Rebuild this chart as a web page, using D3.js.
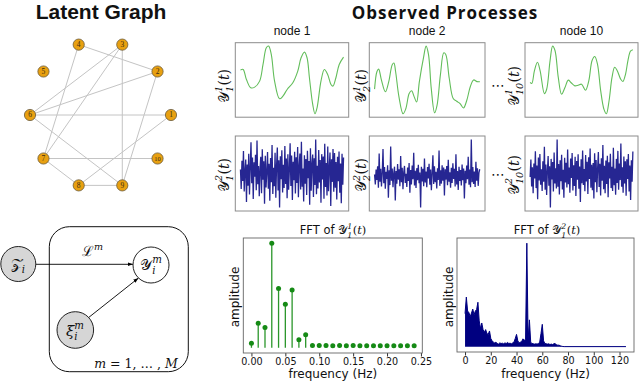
<!DOCTYPE html>
<html>
<head>
<meta charset="utf-8">
<script src="https://cdn.jsdelivr.net/npm/d3@7"></script>
<style>
  body { margin: 0; background: #fff; }
  text { fill: #111; }
</style>
</head>
<body>
<svg id="fig" width="640" height="381"></svg>
<script>
(function () {
  'use strict';

  // ---- data ----
  var nodeIds = [1, 2, 3, 4, 5, 6, 7, 8, 9, 10];
  var edgePairs = [[4, 2], [4, 7], [3, 6], [3, 7], [3, 9], [2, 6], [2, 9],
                   [6, 1], [6, 9], [1, 8], [7, 10], [7, 8], [8, 9]];

  var nodeTitles = ['node 1', 'node 2', 'node 10'];
  var nodeSubs = ['1', '2', '10'];

  // smooth processes, [time, value]
  var sig1 = [[0, 0.33], [2.6, 0.35], [5.8, 0.05], [10, -0.2], [13.8, -0.18], [18.6, 0], [21.9, 0.5],
              [25.1, 1.0], [27.3, 1.05], [29.9, 0.8], [33.1, 0], [37.9, -0.53], [41.2, -0.45],
              [45.3, -0.25], [50.8, -0.05], [55.6, 0.3], [58.8, 0.7], [62.1, 0.87], [64.6, 0.7],
              [66.9, 0.1], [70.1, -0.7], [72.3, -0.98], [74.3, -0.8], [78.1, 0], [81.4, 0.35],
              [84.6, 0.2], [87.8, -0.1], [89.7, -0.15], [92.6, 0.1], [95.8, 0.5], [100, 0.72]];
  var sig2 = [[0, -0.22], [2.3, 0.3], [3.9, 0.37], [6.5, 0.05], [10.3, -0.3], [13.5, 0], [16.8, 0.5],
              [18.4, 0.55], [20, 0.3], [23.2, -0.45], [27.1, -0.95], [29.7, -0.8], [32.9, -0.35],
              [35.2, -0.27], [37.7, -0.45], [40, -0.6], [42.6, 0], [46.5, 0.7], [49, 1.05],
              [51.3, 0.8], [53.9, -0.2], [57.1, -0.92], [59.4, -0.7], [62.6, 0.2], [65.8, 0.85],
              [67.7, 0.8], [71, 0.1], [74.8, -0.5], [78.1, -0.58], [81.3, -0.65], [84.5, -0.78],
              [87.7, -0.55], [91, -0.15], [94.2, 0.05], [97.4, 0], [100, 0]];
  var sig3 = [[0, -0.05], [1.6, -0.08], [4.2, 0.3], [7.1, 0.55], [9.7, 0.3], [13.9, -0.38], [16.1, -0.25],
              [19.4, 0.6], [21.9, 1.03], [24.2, 0.9], [27.4, 0.1], [30.6, -0.4], [33.9, -0.2],
              [37.1, 0.02], [39.7, -0.05], [43.5, -0.15], [46.8, -0.13], [50, -0.1], [53.9, -0.28],
              [57.1, 0], [60.3, 0.6], [62.9, 0.72], [65.5, 0.5], [68.7, -0.3], [71.9, -0.85],
              [74.2, -0.98], [76.8, -0.6], [79.7, 0.1], [82.3, 0.4], [84.8, 0.3], [88.1, 0.05],
              [90.3, -0.02], [92.9, 0.2], [95.2, 0.6], [97.7, 0.88], [100, 0.92]];

  // noisy processes (values read as estimates)
  var noise1 = [0.12, -0.45, 0.38, -0.21, 0.66, -0.52, 0.08, 0.41, -0.83, 0.27, -0.35, 0.58, -0.61, 0.19, 0.92,
    -0.28, 0.47, -0.74, 0.33, -0.09, 0.55, -0.48, 0.97, -0.31, 0.22, -0.66, 0.14, 0.49, -0.57, 0.71, -0.18,
    0.36, -0.88, 0.52, -0.40, 0.05, 0.63, -0.44, 0.29, -0.79, 0.46, -0.25, 0.84, -0.59, 0.17, -0.37, 0.61,
    -0.70, 0.24, 0.76, -0.49, 0.39, -0.99, 0.51, -0.16, 0.68, -0.55, 0.26, -0.42, 0.81, -0.30, 0.44, -0.72,
    0.57, -0.47, 0.11, 0.89, -0.36, 0.53, -0.77, 0.35, -0.19, 0.64, -0.58, 0.48, -0.27, 0.78, -0.69, 0.21,
    0.59, -0.46, 0.93, -0.38, 0.15, -0.81, 0.54, -0.29, 0.43, -0.62, 0.67, -0.13, 0.37, -0.91, 0.74, -0.50,
    0.28, 0.56, -0.68, 0.45, -0.33, 1.0, -0.60, 0.23, -0.43, 0.69, -0.26, 0.40, -0.85, 0.57, -0.17, 0.50,
    -0.73, 0.87, -0.39, 0.31, -0.64, 0.79, -0.51, 0.18, 0.62, -0.94, 0.42, -0.24, 0.72, -0.53, 0.60, -0.41,
    0.34, -0.75, 0.49, -0.22, 0.65, -0.56, 0.30, -0.86, 0.58, -0.32, 0.47];
  var noise2 = [0.05, -0.22, 0.18, -0.10, 0.27, -0.31, 0.62, -0.15, 0.20, -0.28, 0.09, 0.74, -0.19, 0.25, -0.34,
    0.12, -0.07, 0.30, -0.58, 0.16, -0.24, 0.81, -0.12, 0.21, -0.30, 0.08, 0.26, -0.66, 0.14, -0.20, 0.33,
    -0.09, 0.19, -0.27, 0.55, -0.16, 0.23, -0.35, 0.11, 0.28, -0.18, 0.07, -0.29, 0.24, -0.13, 0.36, -0.45,
    0.17, -0.22, 0.29, -0.08, 0.64, -0.25, 0.15, -0.32, 0.22, -0.11, 0.31, -0.19, 0.10, -0.85, 0.26, -0.14,
    0.20, -0.27, 0.48, -0.17, 0.13, -0.30, 0.25, -0.06, 0.34, -0.23, 0.18, -0.38, 0.09, 0.57, -0.21, 0.27,
    -0.16, 0.12, -0.33, 0.22, -0.10, 0.70, -0.26, 0.16, -0.20, 0.30, -0.12, 0.24, -0.52, 0.19, -0.09, 0.28,
    -0.24, 0.45, -0.15, 0.11, -0.31, 0.23, -0.18, 0.35, -0.07, 0.20, -0.28, 0.60, -0.22, 0.14, -0.37, 0.26,
    -0.13, 0.17, -0.25, 0.32, -0.11, 0.21, -0.60, 0.15, -0.19, 0.29, -0.08, 0.53, -0.23, 0.18, -0.30, 1.0,
    -0.16, 0.25, -0.21, 0.13, -0.29, 0.39, -0.12, 0.22, -0.26, 0.10, 0.19];
  var noise3 = [-0.08, 0.42, -0.35, 0.20, -0.55, 0.31, -0.12, 0.66, -0.40, 0.25, -0.72, 0.48, -0.18, 0.58, -0.30,
    0.14, -0.48, 0.37, -0.22, 0.79, -0.45, 0.28, -0.60, 0.10, 0.52, -0.33, 0.23, -0.96, 0.44, -0.15, 0.35,
    -0.50, 0.62, -0.27, 0.17, -0.41, 1.0, -0.36, 0.29, -0.58, 0.40, -0.20, 0.56, -0.44, 0.13, -0.68, 0.47,
    -0.24, 0.33, -0.38, 0.71, -0.29, 0.19, -0.53, 0.45, -0.11, 0.61, -0.47, 0.26, -0.34, 0.50, -0.63, 0.38,
    -0.16, 0.57, -0.42, 0.22, -0.80, 0.43, -0.26, 0.68, -0.31, 0.15, -0.49, 0.55, -0.21, 0.36, -0.57, 0.49,
    -0.14, 0.74, -0.39, 0.27, -0.46, 0.32, -0.70, 0.60, -0.23, 0.41, -0.52, 0.18, 0.64, -0.37, 0.30, -0.61,
    0.46, -0.19, 0.84, -0.43, 0.24, -0.55, 0.39, -0.28, 0.53, -0.66, 0.34, -0.12, 0.59, -0.40, 0.21, -0.48,
    0.76, -0.32, 0.16, -0.59, 0.44, -0.25, 0.67, -0.45, 0.31, -0.17, 0.88, -0.36, 0.20, -0.53, 0.51, -0.27,
    0.37, -0.62, 0.43, -0.14, 0.58, -0.50, 0.25, -0.74, 0.40, -0.22, 0.65];

  // FFT of the smooth process (Hz, amplitude)
  var fft1Freq = [0, 0.01, 0.02, 0.03, 0.04, 0.05, 0.06, 0.07, 0.08, 0.09, 0.10, 0.11, 0.12,
                  0.13, 0.14, 0.15, 0.16, 0.17, 0.18, 0.19, 0.20, 0.21, 0.22, 0.23, 0.24];
  var fft1Amp = [4.4, 23.5, 19.4, 100, 56.8, 41.6, 55.2, 7.6, 12.4, 2.2, 2.1, 2.2, 2.0,
                 2.1, 2.0, 2.1, 2.0, 2.0, 2.0, 2.0, 2.0, 1.9, 2.0, 1.9, 1.9];
  var fft1Ticks = [0, 0.05, 0.10, 0.15, 0.20, 0.25];

  // FFT of the noisy process, one value per Hz from 0 Hz, then flat tail
  var fft2Amp = [32, 48, 34.5, 33, 29, 32.6, 36.4, 31, 34.5, 36, 43, 25, 17.6, 23, 16.6, 14, 16.6, 12.8,
                 12, 15.3, 8, 5.8, 4.5, 3.8, 4.5, 3.2, 2.6, 3.8, 3.2, 3.5, 2.9, 3.8, 3.2, 4.2, 3.2, 3.5,
                 2.9, 3.8, 4.5, 8, 12, 5.8, 3.8, 4.5, 5.1, 7.7, 6.4, 7, 100, 7, 26, 4.5, 3.2, 2.9, 2.6,
                 2.9, 2.6, 3.2, 4.5, 12.8, 21.7, 5.8, 3.2, 2.9, 2.6, 2.9, 2.2, 2.6, 2.2, 2.9, 3.2, 1.9,
                 1.6, 1.6, 1.0, 0.6, 0.3];
  var fft2Tail = [[77, 0.2], [125, 0.2]];
  var fft2Ticks = [0, 20, 40, 60, 80, 100, 120];

  // ---- helpers ----
  var svg = d3.select('#fig');
  var serif = "'DejaVu Serif', 'Liberation Serif', serif";
  var sans = "'DejaVu Sans', sans-serif";

  function pad(ext) {
    var r = ext[1] - ext[0];
    return [ext[0] - r * 0.05, ext[1] + r * 0.05];
  }

  // little math label: base, sub, sup, then (t)
  function mathLabel(parent, o) {
    var g = parent.append('g');
    var t = g.append('text').attr('font-family', serif).attr('font-size', o.size);
    if (o.prefix) t.append('tspan').attr('font-family', sans).attr('font-size', o.prefixSize || o.size).text(o.prefix);
    t.append('tspan').attr('font-style', o.baseItalic ? 'italic' : 'normal').text(o.base);
    var subW = 0, supW = 0;
    if (o.sub) {
      var s = t.append('tspan').attr('font-size', o.size * 0.68).attr('font-style', 'italic')
        .attr('dy', o.size * 0.28).text(o.sub);
      subW = s.node().getComputedTextLength();
    }
    if (o.sup) {
      var p = t.append('tspan').attr('font-size', o.size * 0.68).attr('font-style', 'italic')
        .attr('dx', -subW).attr('dy', o.sub ? -o.size * 0.72 : -o.size * 0.44).text(o.sup);
      supW = p.node().getComputedTextLength();
    }
    if (o.tail) {
      t.append('tspan').attr('dx', Math.max(0, subW - supW) + 0.5)
        .attr('dy', o.sup ? o.size * 0.44 : (o.sub ? -o.size * 0.28 : 0)).text('(');
      t.append('tspan').attr('font-style', 'italic').text('t');
      t.append('tspan').text(')');
    }
    var bb = t.node().getBBox();
    t.attr('transform', 'translate(' + (-(bb.x + bb.width / 2)) + ',' + (-(bb.y + bb.height / 2)) + ')');
    g.attr('transform', 'translate(' + o.cx + ',' + o.cy + ')' + (o.rotate ? ' rotate(' + o.rotate + ')' : ''));
    return g;
  }

  // ---- titles ----
  svg.append('text').attr('x', 101).attr('y', 19).attr('text-anchor', 'middle')
    .attr('font-family', "'Liberation Sans', Arial, sans-serif").attr('font-weight', 'bold')
    .attr('font-size', 21).text('Latent Graph');
  svg.append('text').attr('x', 445).attr('y', 18.5).attr('text-anchor', 'middle')
    .attr('font-family', "'Open Sans', Lato, sans-serif").attr('font-weight', 'bold')
    .attr('font-size', 17).attr('letter-spacing', 1).text('Observed Processes');

  // ---- latent graph (circular layout) ----
  var angle = d3.scaleLinear().domain([1, 11]).range([0, 2 * Math.PI]);
  var gcx = 100.5, gcy = 115, grx = 70.5, gry = 74;
  function nx(id) { return gcx + grx * Math.cos(angle(id)); }
  function ny(id) { return gcy - gry * Math.sin(angle(id)); }

  var graph = svg.append('g');
  graph.selectAll('line.edge').data(edgePairs).enter().append('line')
    .attr('class', 'edge')
    .attr('x1', function (d) { return nx(d[0]); }).attr('y1', function (d) { return ny(d[0]); })
    .attr('x2', function (d) { return nx(d[1]); }).attr('y2', function (d) { return ny(d[1]); })
    .style('stroke', '#c4c4c4').style('stroke-width', 1);
  var nodeG = graph.selectAll('g.node').data(nodeIds).enter().append('g')
    .attr('class', 'node')
    .attr('transform', function (d) { return 'translate(' + nx(d) + ',' + ny(d) + ')'; });
  nodeG.append('circle').attr('r', 5.6)
    .style('fill', '#E8A010').style('stroke', '#6b5a3a').style('stroke-width', 0.8);
  nodeG.append('text').attr('text-anchor', 'middle').attr('dy', 2.4)
    .attr('font-family', "'Liberation Serif', serif").attr('font-size', function (d) { return d === 10 ? 6.5 : 7.5; })
    .style('fill', '#3a2a10').text(function (d) { return d; });

  // ---- plate diagram ----
  var plate = svg.append('g');
  var defs = svg.append('defs');
  defs.append('marker').attr('id', 'arr').attr('viewBox', '0 0 10 10').attr('refX', 10).attr('refY', 5)
    .attr('markerWidth', 6).attr('markerHeight', 6).attr('orient', 'auto')
    .append('path').attr('d', 'M0,1.5 L10,5 L0,8.5 z').style('fill', '#000');

  plate.append('rect').attr('x', 49.3).attr('y', 226.7).attr('width', 139).attr('height', 145)
    .attr('rx', 20).style('fill', 'none').style('stroke', '#111').style('stroke-width', 1);
  plate.append('line').attr('x1', 36).attr('y1', 264.3).attr('x2', 133).attr('y2', 264.3)
    .style('stroke', '#000').style('stroke-width', 0.9).attr('marker-end', 'url(#arr)');
  plate.append('line').attr('x1', 88).attr('y1', 318).attr('x2', 138.5).attr('y2', 278)
    .style('stroke', '#000').style('stroke-width', 0.9).attr('marker-end', 'url(#arr)');
  plate.append('circle').attr('cx', 18.3).attr('cy', 264).attr('r', 17.5)
    .style('fill', '#d6d6d6').style('stroke', '#222').style('stroke-width', 1);
  plate.append('circle').attr('cx', 151).attr('cy', 265).attr('r', 18)
    .style('fill', '#fff').style('stroke', '#222').style('stroke-width', 1);
  plate.append('circle').attr('cx', 75.3).attr('cy', 330).attr('r', 18.3)
    .style('fill', '#d6d6d6').style('stroke', '#222').style('stroke-width', 1);

  mathLabel(plate, { base: '\u{1D4B5}', sub: 'i', size: 15, cx: 18, cy: 265 });
  mathLabel(plate, { base: '\u{1D4B4}', sub: 'i', sup: 'm', size: 15, cx: 151, cy: 265 });
  mathLabel(plate, { base: '\u03BE', baseItalic: true, sub: 'i', sup: 'm', size: 15, cx: 75, cy: 331 });
  mathLabel(plate, { base: '\u2112', sup: 'm', size: 14, cx: 92.5, cy: 250 });
  svg.append('text').attr('x', 136).attr('y', 368).attr('text-anchor', 'middle')
    .attr('font-family', serif).attr('font-size', 12.5)
    .html('<tspan font-style="italic">m</tspan> = 1, \u2026 , <tspan font-style="italic">M</tspan>');

  // ---- observed process panels ----
  var colX = [[235.3, 348.7], [369.3, 485], [525, 638]];
  var labelX = [224, 361.5, 514];
  var rows = [
    { y0: 42.7, y1: 117.2, series: [sig1, sig2, sig3], smooth: true, sup: '1', ly: 86 },
    { y0: 136, y1: 211, series: [noise1, noise2, noise3], smooth: false, sup: '2', ly: 175 }
  ];

  nodeTitles.forEach(function (name, i) {
    svg.append('text').attr('x', (colX[i][0] + colX[i][1]) / 2).attr('y', 35)
      .attr('text-anchor', 'middle').attr('font-family', "'Liberation Sans', Arial, sans-serif")
      .attr('font-size', 12).text(name);
  });

  rows.forEach(function (row) {
    row.series.forEach(function (data, i) {
      var g = svg.append('g');
      var x, y, pts;
      if (row.smooth) {
        pts = data;
        x = d3.scaleLinear().domain(pad(d3.extent(pts, function (d) { return d[0]; }))).range(colX[i]);
      } else {
        pts = data.map(function (v, k) { return [k, v]; });
        x = d3.scaleLinear().domain(pad([0, data.length - 1])).range(colX[i]);
      }
      y = d3.scaleLinear().domain(pad(d3.extent(pts, function (d) { return d[1]; }))).range([row.y1, row.y0]);
      var line = d3.line().x(function (d) { return x(d[0]); }).y(function (d) { return y(d[1]); });
      if (row.smooth) line.curve(d3.curveCatmullRom.alpha(0.5));
      g.append('path').datum(pts).attr('d', line)
        .style('fill', 'none')
        .style('stroke', row.smooth ? '#62bd5a' : '#00007f')
        .style('stroke-width', row.smooth ? 1.1 : 1.3)
        .style('stroke-opacity', row.smooth ? 1 : 0.85);
      g.append('rect').attr('x', colX[i][0]).attr('y', row.y0)
        .attr('width', colX[i][1] - colX[i][0]).attr('height', row.y1 - row.y0)
        .style('fill', 'none').style('stroke', '#8c8c8c').style('stroke-width', 1);
      mathLabel(svg, { base: '\u{1D4B4}', sub: nodeSubs[i], sup: row.sup, tail: true, size: 14,
                       cx: labelX[i], cy: row.ly, rotate: -90 });
    });
    svg.append('text').attr('x', 498).attr('y', row.ly + 4).attr('text-anchor', 'middle')
      .attr('font-family', sans).attr('font-size', 14).text('\u22EF');
  });

  // ---- FFT panels ----
  function fftAxes(box, xDomain, yDomain, ticks, fmt) {
    var x = d3.scaleLinear().domain(xDomain).range([box.x0, box.x1]);
    var y = d3.scaleLinear().domain(yDomain).range([box.y1, box.y0]);
    var ax = svg.append('g').attr('transform', 'translate(0,' + box.y1 + ')')
      .call(d3.axisBottom(x).tickValues(ticks).tickFormat(fmt).tickSize(3.5).tickPadding(2));
    ax.select('.domain').remove();
    ax.selectAll('text').attr('font-family', sans).attr('font-size', 9.6).style('fill', '#111');
    ax.selectAll('line').style('stroke', '#333');
    svg.append('text').attr('x', (box.x0 + box.x1) / 2).attr('y', 378).attr('text-anchor', 'middle')
      .attr('font-family', sans).attr('font-size', 12).text('frequency (Hz)');
    svg.append('text').attr('transform', 'translate(' + (box.x0 - 4.5) + ',' + 297 + ') rotate(-90)')
      .attr('text-anchor', 'middle').attr('font-family', sans).attr('font-size', 12).text('amplitude');
    return { x: x, y: y };
  }
  function fftBox(box) {
    svg.append('rect').attr('x', box.x0).attr('y', box.y0)
      .attr('width', box.x1 - box.x0).attr('height', box.y1 - box.y0)
      .style('fill', 'none').style('stroke', '#666').style('stroke-width', 0.9);
  }

  var box1 = { x0: 243.3, x1: 422.3, y0: 238, y1: 353 };
  var s1 = fftAxes(box1, pad(d3.extent(fft1Freq)), pad([0, d3.max(fft1Amp)]), fft1Ticks, d3.format('.2f'));
  var stems = svg.append('g').selectAll('g').data(fft1Freq).enter().append('g');
  stems.append('line')
    .attr('x1', function (d) { return s1.x(d); }).attr('x2', function (d) { return s1.x(d); })
    .attr('y1', s1.y(0)).attr('y2', function (d, i) { return s1.y(fft1Amp[i]); })
    .style('stroke', '#2a962a').style('stroke-width', 1.3);
  stems.append('circle').attr('cx', function (d) { return s1.x(d); })
    .attr('cy', function (d, i) { return s1.y(fft1Amp[i]); }).attr('r', 2.5)
    .style('fill', '#158a15');
  fftBox(box1);
  mathLabel(svg, { prefix: 'FFT of ', prefixSize: 11.5, base: '\u{1D4B4}', sub: '1', sup: '1', tail: true, size: 11.5,
                   cx: 333, cy: 231 });

  var box2 = { x0: 457, x1: 634, y0: 238, y1: 352 };
  var spec = fft2Amp.map(function (v, k) { return [k, v]; }).concat(fft2Tail);
  var s2 = fftAxes(box2, pad([0, d3.max(spec, function (d) { return d[0]; })]),
                   pad([0, d3.max(spec, function (d) { return d[1]; })]), fft2Ticks, d3.format('d'));
  svg.append('path').datum(spec)
    .attr('d', d3.area().x(function (d) { return s2.x(d[0]); }).y0(s2.y(0)).y1(function (d) { return s2.y(d[1]); }))
    .style('fill', '#000080');
  svg.append('path').datum(spec)
    .attr('d', d3.line().x(function (d) { return s2.x(d[0]); }).y(function (d) { return s2.y(d[1]); }))
    .style('fill', 'none').style('stroke', '#000080').style('stroke-width', 1);
  fftBox(box2);
  mathLabel(svg, { prefix: 'FFT of ', prefixSize: 11.5, base: '\u{1D4B4}', sub: '1', sup: '2', tail: true, size: 11.5,
                   cx: 547, cy: 231 });
}());
</script>
</body>
</html>
